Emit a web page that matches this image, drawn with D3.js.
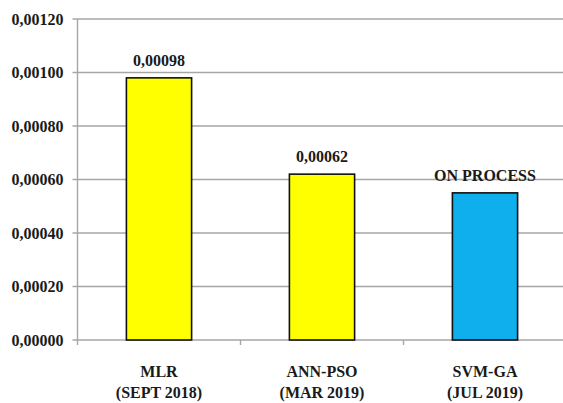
<!DOCTYPE html>
<html>
<head>
<meta charset="utf-8">
<script src="https://cdn.jsdelivr.net/npm/d3@7"></script>
<style>
  html, body { margin: 0; padding: 0; background: #fff; }
  svg { display: block; }
  text { font-family: "Liberation Serif", "Times New Roman", serif; font-weight: bold; fill: #1a1a1a; }
</style>
</head>
<body>
<svg id="chart" width="563" height="403"></svg>
<script>
// Chart data
const methods = ["MLR", "ANN-PSO", "SVM-GA"];
const periods = ["(SEPT 2018)", "(MAR 2019)", "(JUL 2019)"];
const errors = [0.00098, 0.00062, 0.00055];
const valueLabels = ["0,00098", "0,00062", "ON PROCESS"];
const barColors = ["#FFFF00", "#FFFF00", "#0FAEEC"];
const yTicks = [0, 0.0002, 0.0004, 0.0006, 0.0008, 0.001, 0.0012];

const svg = d3.select("#chart");
const plot = { left: 77.5, right: 566.5, top: 19, bottom: 340 };

const x = d3.scaleBand().domain(methods).range([plot.left, plot.right]).paddingInner(0).paddingOuter(0);
const y = d3.scaleLinear().domain([0, 0.0012]).range([plot.bottom, plot.top]);

const fmt = v => d3.format(".5f")(v).replace(".", ",");

// Horizontal gridlines
svg.append("g")
  .selectAll("line")
  .data(yTicks)
  .join("line")
  .attr("x1", plot.left - 5)
  .attr("x2", plot.right)
  .attr("y1", d => y(d))
  .attr("y2", d => y(d))
  .attr("stroke", "#a6a6a6")
  .attr("stroke-width", 1.4);

// Y axis line
svg.append("line")
  .attr("x1", plot.left).attr("x2", plot.left)
  .attr("y1", plot.top).attr("y2", plot.bottom)
  .attr("stroke", "#a6a6a6").attr("stroke-width", 1.4);

// Y tick labels
svg.append("g")
  .selectAll("text")
  .data(yTicks)
  .join("text")
  .attr("x", plot.left - 14)
  .attr("y", d => y(d))
  .attr("dy", "0.35em")
  .attr("text-anchor", "end")
  .attr("font-size", 16)
  .text(fmt);

// Category boundary ticks
const boundaries = methods.map(m => x(m)).concat([plot.right]);
svg.append("g")
  .selectAll("line")
  .data(boundaries)
  .join("line")
  .attr("x1", d => d).attr("x2", d => d)
  .attr("y1", plot.bottom).attr("y2", plot.bottom + 5)
  .attr("stroke", "#a6a6a6").attr("stroke-width", 1.4);

// Bars
const bw = x.bandwidth() * 0.4;
svg.append("g")
  .selectAll("rect")
  .data(errors)
  .join("rect")
  .attr("x", (d, i) => x(methods[i]) + x.bandwidth() / 2 - bw / 2)
  .attr("y", d => y(d))
  .attr("width", bw)
  .attr("height", d => plot.bottom - y(d))
  .attr("fill", (d, i) => barColors[i])
  .attr("stroke", "#111")
  .attr("stroke-width", 1.6);

// Value labels above bars
svg.append("g")
  .selectAll("text")
  .data(errors)
  .join("text")
  .attr("x", (d, i) => x(methods[i]) + x.bandwidth() / 2)
  .attr("y", d => y(d) - 12)
  .attr("text-anchor", "middle")
  .attr("font-size", 16)
  .text((d, i) => valueLabels[i]);

// Category labels (two lines)
const cat = svg.append("g")
  .selectAll("text")
  .data(methods)
  .join("text")
  .attr("text-anchor", "middle")
  .attr("font-size", 16);
cat.append("tspan").attr("x", d => x(d) + x.bandwidth() / 2).attr("y", 377).text(d => d);
cat.append("tspan").attr("x", d => x(d) + x.bandwidth() / 2).attr("y", 398).text((d, i) => periods[i]);
</script>
</body>
</html>
